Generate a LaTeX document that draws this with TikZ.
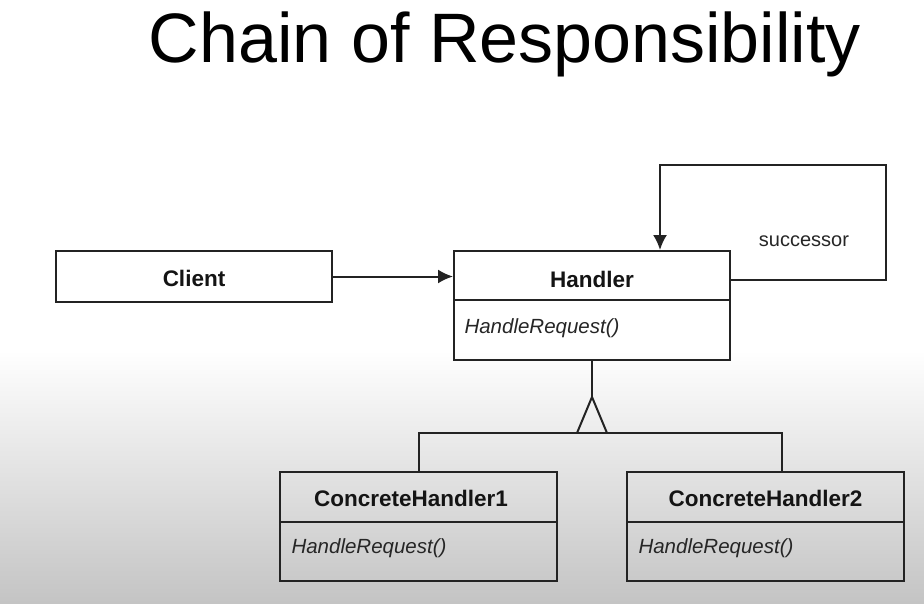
\documentclass[tikz,border=0pt]{standalone}
\usepackage{fontspec}
\setmainfont{Liberation Sans}
\usetikzlibrary{arrows.meta}
\definecolor{ink}{RGB}{35,35,35}
\definecolor{shadegray}{RGB}{196,196,196}
\begin{document}
\begin{tikzpicture}[x=1pt,y=-1pt,
  uml/.style={draw=ink,line width=2pt,minimum width=276pt,inner sep=0pt},
  head/.style={font=\fontsize{22.5}{26}\selectfont\bfseries,text=black!92},
  op/.style={font=\fontsize{20.5}{24}\selectfont\itshape,text=black!85,anchor=west},
  link/.style={draw=ink,line width=2pt},
  arr/.style={link,-{Latex[length=15pt,width=14pt]}}]
  % page and lower shading
  \useasboundingbox (0,0) rectangle (924,603);
  \fill[white] (0,0) rectangle (924,603);
  \shade[top color=white,bottom color=shadegray] (0,350) rectangle (924,603);

  % title
  \node[anchor=base,font=\fontsize{70}{80}\selectfont] (title) at (505,62) {Chain of Responsibility};

  % classes
  \node[uml,minimum height=51pt] (client) at (194,276.5) {};
  \node[head] (clientname) at (194,278) {Client};

  \node[uml,minimum height=109pt] (handler) at (592,305.5) {};
  \node[head] (handlername) at (592,279) {Handler};
  \draw[link] (454,300) -- (730,300);
  \node[op] (handlerop) at (461,328) {HandleRequest()};

  \node[uml,minimum width=277pt,minimum height=109pt] (c1) at (418.5,526.5) {};
  \node[head] (c1name) at (411,498) {ConcreteHandler1};
  \draw[link] (280,522) -- (557,522);
  \node[op] (c1op) at (288,548) {HandleRequest()};

  \node[uml,minimum width=277pt,minimum height=109pt] (c2) at (765.5,526.5) {};
  \node[head] (c2name) at (765.5,498) {ConcreteHandler2};
  \draw[link] (627,522) -- (904,522);
  \node[op] (c2op) at (635,548) {HandleRequest()};

  % association Client -> Handler
  \draw[arr] (client.east) -- (handler.west |- client.east);

  % self association "successor"
  \coordinate (loopR) at (886,165);
  \draw[arr] ([yshift=25.5pt]handler.east) -| (loopR) -| ([xshift=68pt]handler.north);
  \node[font=\fontsize{20}{24}\selectfont,text=black!85] (succ) at (804,241) {successor};

  % generalization
  \coordinate (apex) at (592,397);
  \coordinate (j1) at (419,433);
  \coordinate (j2) at (782,433);
  \draw[link] (handler.south) -- (apex);
  \draw[link,line join=miter] (577,433) -- (apex) -- (607,433);
  \draw[link] ([xshift=0.5pt]c1.north) -- (j1) -- (j2) -- (j2 |- c2.north);
\end{tikzpicture}
\end{document}
